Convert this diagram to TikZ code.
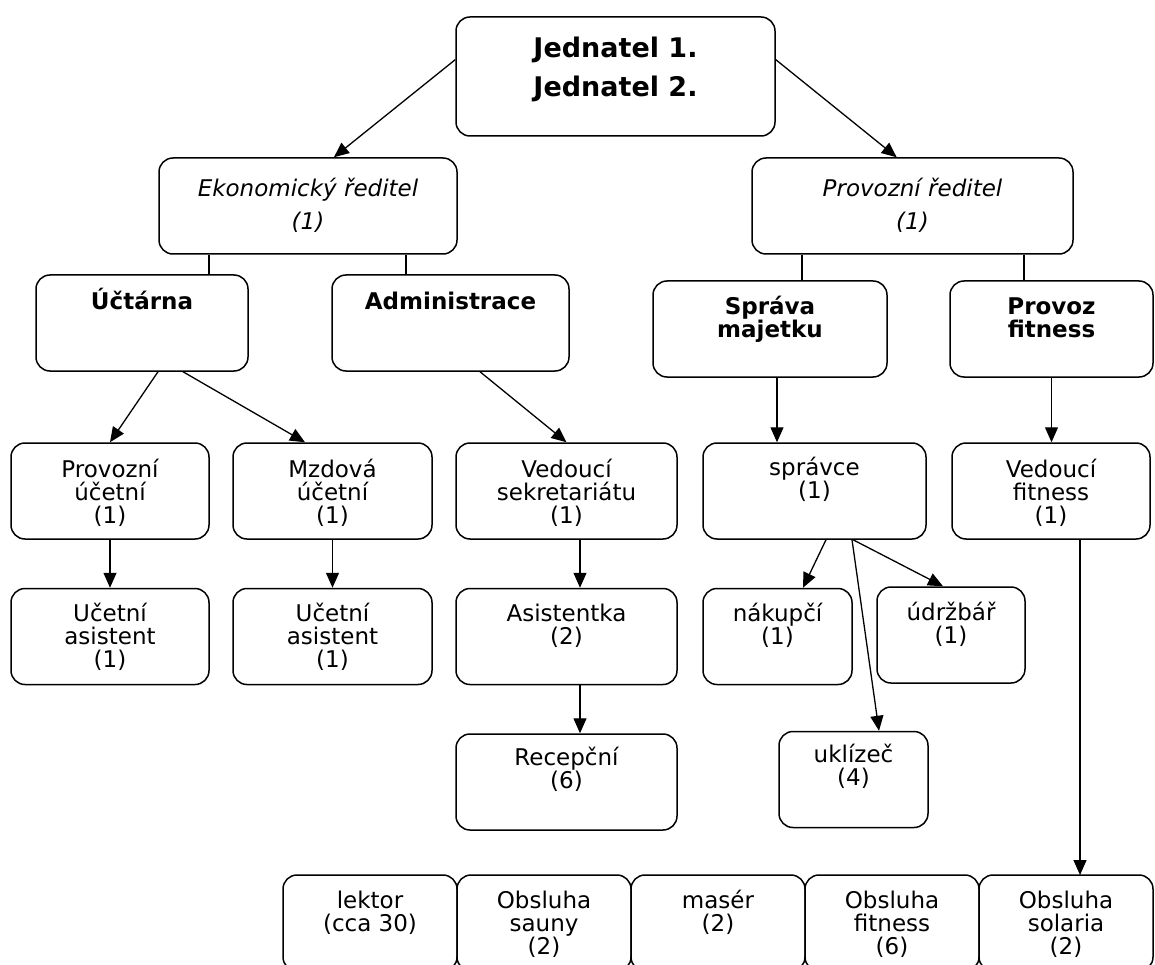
\documentclass[tikz,border=0pt]{standalone}
\usepackage{fontspec}
\setmainfont{DejaVu Sans}
\usepackage{tikz}
\usetikzlibrary{positioning,arrows.meta}
\newcommand{\orgtext}[4]{\parbox[c][#2pt][t]{#1pt}{\centering\lineskiplimit=-50pt\rule{0pt}{#3pt}#4}}
\tikzset{
  orgbox/.style={draw=black, line width=1.5pt, rounded corners=14pt, inner sep=0pt, fill=white},
  rowbox/.style={orgbox, outer sep=0pt},
  headfont/.style={font=\fontsize{27}{39}\selectfont\bfseries},
  chieffont/.style={font=\fontsize{23}{33}\selectfont\itshape},
  deptfont/.style={font=\fontsize{23}{23}\selectfont\bfseries},
  tiearrow/.style={-{Triangle[length=15pt,width=13pt]}, line width=1.3pt},
  tieline/.style={line width=1.3pt}
}
\begin{document}
\begin{tikzpicture}[x=1pt, y=1pt, font=\fontsize{23}{23}\selectfont, node distance=48pt and 0pt]
  \useasboundingbox (0,0) rectangle (1155,-965);
  \node[orgbox, headfont] (jed) at (615.5,-76.5) {\orgtext{319}{119}{41}{Jednatel 1.\\Jednatel 2.}};
  \node[orgbox, chieffont] (eko) at (308,-206) {\orgtext{298}{96}{39}{Ekonomický ředitel\\(1)}};
  \node[orgbox, chieffont] (prov) at (912.5,-206) {\orgtext{321}{96}{39}{Provozní ředitel\\(1)}};
  \node[orgbox, deptfont] (uct) at (142,-323) {\orgtext{212}{96}{34}{Účtárna}};
  \node[orgbox, deptfont] (adm) at (450.5,-323) {\orgtext{237}{96}{34}{Administrace}};
  \node[orgbox, deptfont] (spr) at (770,-329) {\orgtext{234}{96}{33}{Správa\\majetku}};
  \node[orgbox, deptfont] (pfit) at (1051.5,-329) {\orgtext{203}{96}{33}{Provoz\\fitness}};
  \node[orgbox] (pu) at (110,-491) {\orgtext{198}{96}{34}{Provozní\\účetní\\(1)}};
  \node[orgbox] (mu) at (332.5,-491) {\orgtext{199}{96}{34}{Mzdová\\účetní\\(1)}};
  \node[orgbox] (vs) at (566.5,-491) {\orgtext{221}{96}{34}{Vedoucí\\sekretariátu\\(1)}};
  \node[orgbox] (sprc) at (814.5,-491) {\orgtext{223}{96}{32}{správce\\(1)}};
  \node[orgbox] (vf) at (1051,-491) {\orgtext{198}{96}{34}{Vedoucí\\fitness\\(1)}};
  \node[orgbox, below=of pu] (ua1) {\orgtext{198}{96}{33}{Učetní\\asistent\\(1)}};
  \node[orgbox, below=of mu] (ua2) {\orgtext{199}{96}{33}{Učetní\\asistent\\(1)}};
  \node[orgbox, below=of vs] (asi) {\orgtext{221}{96}{33}{Asistentka\\(2)}};
  \node[orgbox, below=of sprc.south west, anchor=north west] (nak) {\orgtext{149}{96}{33}{nákupčí\\(1)}};
  \node[orgbox] (udr) at (951,-635) {\orgtext{148}{96}{33}{údržbář\\(1)}};
  \node[orgbox, below=of asi] (rec) {\orgtext{221}{96}{31}{Recepční\\(6)}};
  \node[orgbox] (ukl) at (853.5,-779.5) {\orgtext{149}{96}{31}{uklízeč\\(4)}};
  \node[rowbox] (lek) at (370,-923) {\orgtext{174}{96}{33}{lektor\\(cca 30)}};
  \node[rowbox, right=of lek] (sau) {\orgtext{174}{96}{33}{Obsluha\\sauny\\(2)}};
  \node[rowbox, right=of sau] (mas) {\orgtext{174}{96}{33}{masér\\(2)}};
  \node[rowbox, right=of mas] (ofit) {\orgtext{174}{96}{33}{Obsluha\\fitness\\(6)}};
  \node[rowbox, right=of ofit] (sol) {\orgtext{174}{96}{33}{Obsluha\\solaria\\(2)}};
  \draw[tiearrow] (jed.174) -- (eko.62);
  \draw[tiearrow] (jed.6) -- (prov.108);
  \draw[tieline] ([xshift=67pt]uct.north) -- ([xshift=67pt]uct.north |- eko.south);
  \draw[tieline] ([xshift=-44.5pt]adm.north) -- ([xshift=-44.5pt]adm.north |- eko.south);
  \draw[tieline] ([xshift=32pt]spr.north) -- ([xshift=32pt]spr.north |- prov.south);
  \draw[tieline] ([xshift=-27.5pt]pfit.north) -- ([xshift=-27.5pt]pfit.north |- prov.south);
  \draw[tiearrow] ([xshift=16pt]uct.south) -- (pu.north);
  \draw[tiearrow] ([xshift=41pt]uct.south) -- ([xshift=-27.5pt]mu.north);
  \draw[tiearrow] ([xshift=29.5pt]adm.south) -- (vs.north);
  \draw[tiearrow] ([xshift=7pt]spr.south) -- ([xshift=7pt]spr.south |- sprc.north);
  \draw[tiearrow] (pfit.south) -- (pfit.south |- vf.north);
  \draw[tiearrow] (pu) -- (ua1);
  \draw[tiearrow] (mu) -- (ua2);
  \draw[tiearrow] ([xshift=13.5pt]vs.south) -- ([xshift=13.5pt]asi.north);
  \draw[tiearrow] ([xshift=13.5pt]asi.south) -- ([xshift=13.5pt]rec.north);
  \draw[tiearrow] ([xshift=11.5pt]sprc.south) -- ([xshift=25.5pt]nak.north);
  \draw[tiearrow] ([xshift=37.5pt]sprc.south) -- ([xshift=25.5pt]ukl.north);
  \draw[tiearrow] ([xshift=38.5pt]sprc.south) -- ([xshift=-8pt]udr.north);
  \draw[tiearrow] ([xshift=29pt]vf.south) -- ([xshift=29pt]vf.south |- sol.north);
\end{tikzpicture}
\end{document}
